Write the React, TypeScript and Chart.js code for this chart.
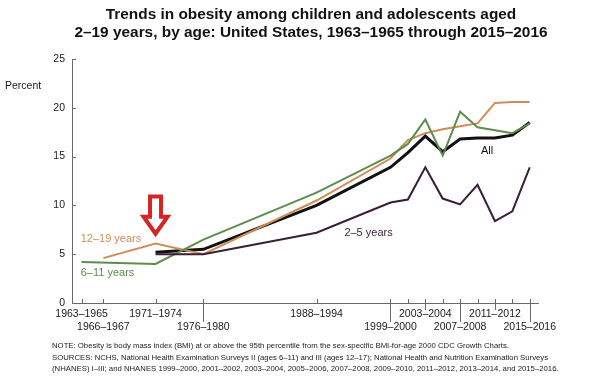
import React, { useEffect, useRef } from "react";
import { Chart, registerables } from "chart.js";

Chart.register(...registerables);

const periodLabels = [
  "1963–1965", "1966–1967", "1971–1974", "1976–1980", "1988–1994",
  "1999–2000", "2001–2002", "2003–2004", "2005–2006", "2007–2008",
  "2009–2010", "2011–2012", "2013–2014", "2015–2016",
];
const periodMid = [1964, 1966.5, 1972.5, 1978, 1991, 1999.5, 2001.5, 2003.5, 2005.5, 2007.5, 2009.5, 2011.5, 2013.5, 2015.5];
const topRowLabels = ["1963–1965", "1971–1974", "1988–1994", "2003–2004", "2011–2012"];
const bottomRowLabels = ["1966–1967", "1976–1980", "1999–2000", "2007–2008", "2015–2016"];
const longTickLabels = ["1976–1980", "1999–2000", "2007–2008", "2015–2016"];
const shortDownTickLabels = ["2003–2004", "2011–2012"];

const allAges = [null, null, 5.2, 5.5, 10.0, 13.9, 15.4, 17.1, 15.5, 16.8, 16.9, 16.9, 17.2, 18.5];
const ages2to5 = [null, null, 5.0, 5.0, 7.2, 10.3, 10.6, 13.9, 10.7, 10.1, 12.1, 8.4, 9.4, 13.9];
const ages6to11 = [4.2, null, 4.0, 6.5, 11.3, 15.1, 16.3, 18.8, 15.1, 19.6, 18.0, 17.7, 17.4, 18.4];
const ages12to19 = [null, 4.6, 6.1, 5.0, 10.5, 14.8, 16.7, 17.4, 17.8, 18.1, 18.4, 20.5, 20.6, 20.6];

const yTicks = [0, 5, 10, 15, 20, 25];

const FONT = "'Liberation Sans', Arial, Helvetica, sans-serif";

const COLORS = {
  all: "#111111",
  a25: "#3b1c39",
  a611: "#5d8c4e",
  a1219: "#d08d56",
  arrow: "#d42424",
  axis: "#6a6a6a",
};

const toPoints = (vals: (number | null)[]) =>
  periodMid
    .map((x, i) => ({ x, y: vals[i] }))
    .filter((p) => p.y !== null) as { x: number; y: number }[];

// labels anchored at data coordinates (year, percent)
const seriesLabels = [
  { text: "12–19 years", x: 1963.9, y: 6.6, color: COLORS.a1219 },
  { text: "6–11 years", x: 1963.9, y: 3.1, color: COLORS.a611 },
  { text: "2–5 years", x: 1994.2, y: 7.2, color: COLORS.a25 },
  { text: "All", x: 2009.9, y: 15.6, color: "#111" },
];

const decorPlugin = {
  id: "decor",
  beforeDatasetsDraw(chart: any) {
    const { ctx, chartArea, scales } = chart;
    const xs = scales.x;
    const ys = scales.y;
    ctx.save();
    ctx.strokeStyle = COLORS.axis;
    ctx.lineWidth = 1;
    yTicks.forEach((v) => {
      const py = Math.round(ys.getPixelForValue(v)) + 0.5;
      ctx.beginPath();
      ctx.moveTo(chartArea.left, py);
      ctx.lineTo(chartArea.left + 4, py);
      ctx.stroke();
    });
    periodMid.forEach((v, i) => {
      const px = Math.round(xs.getPixelForValue(v)) + 0.5;
      const b = chartArea.bottom;
      ctx.beginPath();
      ctx.moveTo(px, b);
      ctx.lineTo(px, b - 4);
      ctx.stroke();
      const lab = periodLabels[i];
      if (longTickLabels.includes(lab)) {
        ctx.beginPath();
        ctx.moveTo(px, b);
        ctx.lineTo(px, b + 19);
        ctx.stroke();
      } else if (shortDownTickLabels.includes(lab)) {
        ctx.beginPath();
        ctx.moveTo(px, b);
        ctx.lineTo(px, b + 7);
        ctx.stroke();
      }
    });
    ctx.restore();
  },
  afterDatasetsDraw(chart: any) {
    const { ctx, scales } = chart;
    const xs = scales.x;
    const ys = scales.y;
    ctx.save();
    ctx.font = `11px ${FONT}`;
    ctx.textBaseline = "middle";
    ctx.textAlign = "left";
    seriesLabels.forEach((l) => {
      ctx.fillStyle = l.color;
      ctx.fillText(l.text, xs.getPixelForValue(l.x), ys.getPixelForValue(l.y));
    });
    // hollow red arrow pointing at 1971–1974
    const cx = xs.getPixelForValue(1972.5);
    const top = ys.getPixelForValue(10.9);
    const tip = ys.getPixelForValue(7.1);
    const headTop = tip - 17;
    const sw = 5.5;
    const hw = 12;
    ctx.beginPath();
    ctx.moveTo(cx - sw, top);
    ctx.lineTo(cx + sw, top);
    ctx.lineTo(cx + sw, headTop);
    ctx.lineTo(cx + hw, headTop);
    ctx.lineTo(cx, tip);
    ctx.lineTo(cx - hw, headTop);
    ctx.lineTo(cx - sw, headTop);
    ctx.closePath();
    ctx.fillStyle = "#ffffff";
    ctx.fill();
    ctx.strokeStyle = COLORS.arrow;
    ctx.lineWidth = 4;
    ctx.lineJoin = "miter";
    ctx.stroke();
    ctx.restore();
  },
};

export default function App() {
  const ref = useRef<HTMLCanvasElement | null>(null);

  useEffect(() => {
    document.body.style.margin = "0";
    const canvas = ref.current;
    if (!canvas) return;
    const mk = (label: string, vals: (number | null)[], color: string, width: number) => ({
      label,
      data: toPoints(vals),
      borderColor: color,
      backgroundColor: color,
      borderWidth: width,
      pointRadius: 0,
      tension: 0,
      fill: false,
    });
    const chart = new Chart(canvas, {
      type: "line",
      data: {
        datasets: [
          mk("2–5 years", ages2to5, COLORS.a25, 2),
          mk("6–11 years", ages6to11, COLORS.a611, 2),
          mk("12–19 years", ages12to19, COLORS.a1219, 2),
          mk("All", allAges, COLORS.all, 3),
        ],
      },
      options: {
        animation: false,
        responsive: false,
        devicePixelRatio: 1,
        layout: { padding: { left: 0, right: 78, top: 59, bottom: 0 } },
        plugins: {
          legend: { display: false },
          tooltip: { enabled: false },
          title: { display: false },
        },
        scales: {
          x: {
            type: "linear",
            min: 1962.9,
            max: 2016.45,
            grid: { display: true, drawOnChartArea: false, drawTicks: false },
            border: { display: true, color: COLORS.axis, width: 1 },
            afterBuildTicks: (scale: any) => {
              scale.ticks = periodMid.map((v) => ({ value: v }));
            },
            afterFit: (scale: any) => {
              scale.height = 75;
            },
            ticks: {
              autoSkip: false,
              maxRotation: 0,
              minRotation: 0,
              padding: 5,
              color: "#1a1a1a",
              font: { family: FONT, size: 10.5, lineHeight: 1.2 },
              callback: (value: any) => {
                const i = periodMid.indexOf(Number(value));
                if (i < 0) return "";
                const lab = periodLabels[i];
                if (bottomRowLabels.includes(lab)) return ["", lab];
                if (topRowLabels.includes(lab)) return lab;
                return "";
              },
            },
          },
          y: {
            type: "linear",
            min: 0,
            max: 25,
            grid: { display: true, drawOnChartArea: false, drawTicks: false },
            border: { display: true, color: COLORS.axis, width: 1 },
            afterBuildTicks: (scale: any) => {
              scale.ticks = yTicks.map((v) => ({ value: v }));
            },
            afterFit: (scale: any) => {
              scale.width = 72;
            },
            ticks: {
              padding: 7,
              color: "#1a1a1a",
              font: { family: FONT, size: 10.5 },
            },
          },
        },
      },
      plugins: [decorPlugin],
    });
    return () => chart.destroy();
  }, []);

  const footStyle: React.CSSProperties = {
    position: "absolute",
    left: 52,
    fontFamily: FONT,
    fontSize: 7.75,
    color: "#222",
    whiteSpace: "nowrap",
    lineHeight: "11.5px",
  };

  return (
    <div style={{ position: "relative", width: 616, height: 378, background: "#fff", overflow: "hidden" }}>
      <canvas ref={ref} width={616} height={378} style={{ position: "absolute", left: 0, top: 0 }} />
      <div
        style={{
          position: "absolute",
          left: 0,
          top: 5,
          width: 622,
          textAlign: "center",
          fontFamily: FONT,
          fontWeight: "bold",
          fontSize: 15.4,
          lineHeight: "18px",
          color: "#111",
        }}
      >
        <div>Trends in obesity among children and adolescents aged</div>
        <div>2–19 years, by age: United States, 1963–1965 through 2015–2016</div>
      </div>
      <div
        style={{
          position: "absolute",
          left: 5,
          top: 79,
          fontFamily: FONT,
          fontSize: 10.5,
          color: "#1a1a1a",
        }}
      >
        Percent
      </div>
      <div style={{ ...footStyle, top: 340 }}>
        <div>NOTE: Obesity is body mass index (BMI) at or above the 95th percentile from the sex-specific BMI-for-age 2000 CDC Growth Charts.</div>
        <div>SOURCES: NCHS, National Health Examination Surveys II (ages 6–11) and III (ages 12–17); National Health and Nutrition Examination Surveys</div>
        <div>(NHANES) I–III; and NHANES 1999–2000, 2001–2002, 2003–2004, 2005–2006, 2007–2008, 2009–2010, 2011–2012, 2013–2014, and 2015–2016.</div>
      </div>
    </div>
  );
}
